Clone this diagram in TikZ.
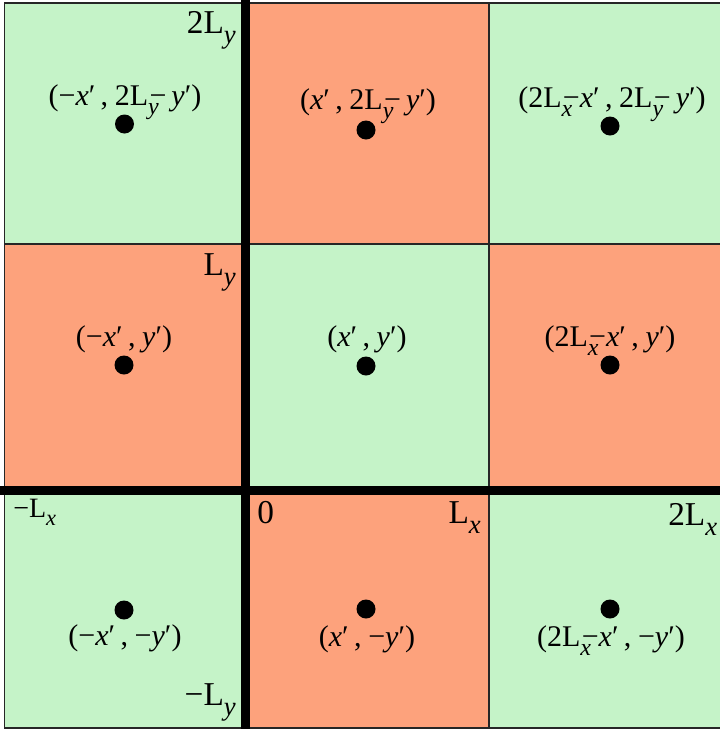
\documentclass[tikz,border=0pt]{standalone}
\usepackage{fontspec}
\setmainfont{Liberation Serif}
\definecolor{cgreen}{RGB}{197,243,200}
\definecolor{csalmon}{RGB}{253,162,124}
\newcommand\sbx[1]{\raisebox{-0.32em}{\scalebox{0.8}{\textit{#1}}}}
\newcommand\ix{\textit{x}}
\newcommand\iy{\textit{y}}
\newcommand\pp{′}
\newcommand\cm{\kern4pt,\kern5pt}
\newcommand\tLy{2L\rlap{\sbx{y}}\kern1pt−\,\iy\pp}
\newcommand\tLx{2L\rlap{\sbx{x}}\kern1pt−\ix\pp}
\begin{document}
\begin{tikzpicture}[x=0.75pt,y=-0.75pt,
  dot/.style={circle,fill=black,inner sep=0pt,minimum size=14.25pt},
  lab/.style={inner sep=0pt,anchor=base,font=\fontsize{22.5}{26}\selectfont},
  big/.style={inner sep=0pt,font=\fontsize{25}{30}\selectfont},
  midsize/.style={inner sep=0pt,font=\fontsize{21}{25}\selectfont},
  thinline/.style={draw=black!85,line width=1.1pt},
  thickline/.style={line width=6.75pt}]
\useasboundingbox (0,0) rectangle (720,729);
% cells
\fill[cgreen]   (4.5,3) rectangle (245.5,244);
\fill[csalmon]  (245.5,3) rectangle (489,244);
\fill[cgreen]   (489,3) rectangle (740,244);
\fill[csalmon]  (4.5,244) rectangle (245.5,490.5);
\fill[cgreen]   (245.5,244) rectangle (489,490.5);
\fill[csalmon]  (489,244) rectangle (740,490.5);
\fill[cgreen]   (4.5,490.5) rectangle (245.5,728);
\fill[csalmon]  (245.5,490.5) rectangle (489,728);
\fill[cgreen]   (489,490.5) rectangle (740,728);
% thin grid
\draw[thinline] (4.5,3) rectangle (740,728);
\draw[thinline] (4.5,244) -- (740,244);
\draw[thinline] (489,3) -- (489,728);
% thick axes
\draw[thickline] (245.5,0) -- (245.5,729);
\draw[thickline] (0,490.5) -- (740,490.5);
% dots
\node[dot] (d11) at (124.5,124) {};
\node[dot] (d12) at (366,130) {};
\node[dot] (d13) at (610,126) {};
\node[dot] (d21) at (124,365) {};
\node[dot] (d22) at (366,366) {};
\node[dot] (d23) at (610,365) {};
\node[dot] (d31) at (124,610) {};
\node[dot] (d32) at (366,609) {};
\node[dot] (d33) at (610,609) {};
% point labels
\node[lab] (l11) at (125,105) {(−\ix\pp\cm\tLy)};
\node[lab] (l12) at (368,109) {(\ix\pp\cm\tLy)};
\node[lab] (l13) at (612,107) {(\tLx\cm\tLy)};
\node[lab] (l21) at (124,346) {(−\ix\pp\cm\iy\pp)};
\node[lab] (l22) at (367,346) {(\ix\pp\cm\iy\pp)};
\node[lab] (l23) at (610,346) {(\tLx\cm\iy\pp)};
\node[lab] (l31) at (125,645) {(−\ix\pp\cm−\iy\pp)};
\node[lab] (l32) at (367,646) {(\ix\pp\cm−\iy\pp)};
\node[lab] (l33) at (611,646) {(\tLx\cm−\iy\pp)};
% corner labels
\node[big,anchor=base east] (c2ly) at (236,33) {2L\sbx{y}};
\node[big,anchor=base east] (cly) at (236,275) {L\sbx{y}};
\node[midsize,anchor=base west] (cmlx) at (13,517) {−L\sbx{x}};
\node[big,anchor=base east] (cmly) at (236,705) {−L\sbx{y}};
\node[big,anchor=base west] (c0) at (257,523) {0};
\node[big,anchor=base east] (clx) at (481,523) {L\sbx{x}};
\node[big,anchor=base west] (c2lx) at (668,525) {2L\sbx{x}};
\end{tikzpicture}
\end{document}
